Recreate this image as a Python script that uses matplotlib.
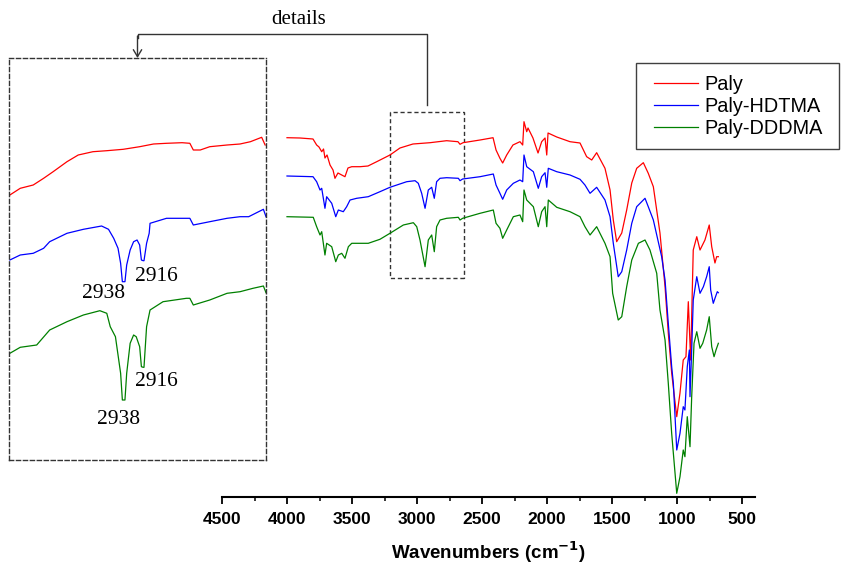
import matplotlib
matplotlib.use("Agg")
import matplotlib.pyplot as plt
from matplotlib.patches import Rectangle, FancyArrowPatch
from matplotlib.lines import Line2D
from matplotlib.ticker import MultipleLocator

# ---- FTIR spectra (wavenumber in cm-1, transmittance in arbitrary units, curves offset) ----
paly_wn = [4000, 3900, 3800, 3772, 3754, 3733, 3719, 3708, 3692, 3669, 3646, 3631, 3608, 3579,
           3554, 3531, 3502, 3438, 3377, 3310, 3208, 3131, 3031, 2900, 2772, 2685, 2669, 2646,
           2515, 2415, 2392, 2362, 2341, 2310, 2262, 2208, 2187, 2177, 2156, 2146, 2108, 2069,
           2041, 2015, 2002, 1992, 1925, 1823, 1746, 1695, 1656, 1618, 1554, 1515, 1490, 1464,
           1425, 1387, 1348, 1310, 1259, 1221, 1182, 1131, 1092, 1067, 1041, 1002, 977, 952,
           931, 913, 895, 875, 848, 823, 785, 752, 733, 708, 695, 682]
paly_t = [362.3, 362, 361, 355, 353, 348.3, 351, 342, 345, 335, 330, 321.7, 327, 325,
          323.3, 332, 333.3, 333.3, 334, 338.3, 345, 352, 356, 357.3, 359.3, 358.3, 355.7, 357.3,
          360, 362.3, 350, 341.7, 337, 345, 355, 358.3, 355, 378.3, 368.3, 372, 362, 347,
          358.3, 362, 345, 367, 363, 358.3, 357, 343.3, 340, 347.3, 331.7, 310, 280, 258.3,
          267, 290, 317, 331.7, 337.3, 326.7, 313.3, 267, 213.3, 167, 127, 83.3, 107, 140,
          143.3, 198.3, 140, 250, 263.3, 250, 260, 275, 253.3, 237, 243.3, 243.3]

hdtma_wn = [4000, 3800, 3772, 3746, 3733, 3708, 3695, 3656, 3625, 3605, 3567, 3541, 3515, 3464,
            3375, 3285, 3208, 3079, 3015, 2990, 2964, 2938, 2913, 2887, 2867, 2849, 2823, 2772,
            2682, 2669, 2649, 2515, 2413, 2392, 2362, 2341, 2310, 2259, 2208, 2187, 2177, 2156,
            2105, 2067, 2041, 2015, 2002, 1990, 1925, 1823, 1746, 1708, 1669, 1618, 1554, 1515,
            1490, 1452, 1425, 1387, 1348, 1310, 1246, 1221, 1182, 1118, 1092, 1067, 1041, 1028,
            1002, 977, 952, 939, 921, 905, 900, 887, 875, 848, 823, 797, 772, 752, 741, 721,
            708, 690, 682]
hdtma_t = [324, 323.3, 318.3, 310, 311.7, 291.7, 303.3, 296.7, 283.3, 290, 288.3, 293.3, 300, 301.7,
           303.3, 308.3, 312.7, 318.3, 319.3, 316.7, 306.7, 291.7, 310, 312.7, 301.7, 318.3, 321.7, 322.3,
           321.7, 319.3, 321, 323.3, 326, 315, 306.7, 300.7, 310, 316.7, 320, 318.3, 345, 333.3,
           328.3, 311.7, 323.3, 327.3, 312.7, 331.7, 328.3, 325, 320.7, 315, 306.7, 312.7, 300, 283.3,
           256.7, 223.3, 228.3, 250, 276.7, 293.3, 301.7, 293.3, 280, 243.3, 220, 176.7, 133.3, 116.7,
           50, 66.7, 93.3, 90, 133.3, 150, 103.3, 150, 200, 223.3, 206.7, 213.3, 223.3, 233.3, 210, 196.7,
           201.7, 208.3, 207.3]

dddma_wn = [4000, 3798, 3772, 3746, 3733, 3708, 3695, 3656, 3625, 3605, 3579, 3554, 3528, 3502,
            3375, 3285, 3208, 3105, 3028, 3002, 2977, 2938, 2913, 2887, 2867, 2849, 2823, 2772,
            2682, 2669, 2649, 2515, 2413, 2392, 2362, 2341, 2310, 2259, 2208, 2187, 2177, 2156,
            2105, 2067, 2041, 2015, 2002, 1990, 1925, 1823, 1746, 1708, 1669, 1618, 1554, 1515,
            1495, 1452, 1425, 1387, 1348, 1297, 1246, 1208, 1156, 1131, 1092, 1067, 1041, 1002,
            977, 952, 939, 921, 900, 887, 869, 848, 823, 802, 772, 752, 733, 715, 700, 682]
dddma_t = [283.3, 282.7, 273.3, 265, 268.3, 245, 256.7, 253.3, 238.3, 245, 246.7, 241.7, 253.3, 256.7,
           256.7, 260.7, 266.7, 275, 277.3, 273.3, 260, 233.3, 260, 265, 248.3, 273.3, 280, 281.7,
           282.7, 280, 281.7, 286.7, 290, 276.7, 271.7, 261.7, 270, 283.3, 285, 278.3, 310, 300,
           293.3, 273.3, 288.3, 293.3, 273.3, 300, 292.7, 288.3, 283.3, 273.3, 265, 273.3, 256.7, 243.3,
           206.7, 180, 183.3, 213.3, 240, 256.7, 260, 250, 226.7, 190, 160, 116.7, 66.7, 6.7,
           23.3, 50, 43.3, 83.3, 53.3, 103.3, 156.7, 168.3, 151.7, 156.7, 170, 183.3, 153.3, 143.3, 150, 156.7]

# ---- expanded C-H stretching region ----
det_paly_wn = [3070, 3058, 3043, 3031, 3020, 3004, 2991, 2974, 2958, 2939, 2920, 2904, 2889, 2871,
               2862, 2858, 2850, 2839, 2819, 2804, 2792, 2779, 2775]
det_paly_t = [305, 311.7, 315, 321.7, 328.3, 338.3, 345, 348.3, 349.3, 350.7, 353.3, 356, 356.7, 357.3,
              356.7, 350, 350, 353.3, 355, 356, 358.3, 362.7, 355]

det_hdtma_wn = [3070, 3058, 3043, 3031, 3024, 3004, 2985, 2964, 2956, 2950, 2945, 2942, 2940, 2938,
                2937, 2935, 2931, 2927, 2923, 2920, 2918, 2916, 2915, 2912, 2909, 2908, 2889, 2862,
                2858, 2839, 2819, 2804, 2794, 2777, 2774]
det_hdtma_t = [240, 245, 246.7, 251.7, 258.3, 266.7, 270.7, 274, 270.7, 261.7, 251.7, 236.7, 218.3, 218.3,
               218.3, 235, 250, 258.3, 260, 255, 240, 239.3, 239.3, 256.7, 266.7, 276.7, 281.7, 281.7,
               275, 278.3, 281.7, 283.3, 283.3, 290.7, 283.3]

det_dddma_wn = [3070, 3058, 3039, 3024, 3004, 2985, 2966, 2958, 2954, 2948, 2945, 2942, 2940, 2938,
                2937, 2935, 2931, 2927, 2924, 2920, 2918, 2916, 2915, 2912, 2908, 2893, 2866, 2862,
                2858, 2839, 2819, 2804, 2789, 2777, 2774]
det_dddma_t = [146.7, 152.7, 155, 170, 178.3, 185, 189.3, 186.7, 173.3, 163.3, 145, 126.7, 100, 100,
               100, 126.7, 156.7, 165, 163.3, 153.3, 133.3, 132.7, 132.7, 173.3, 190, 198.3, 201.7, 201.7,
               195, 200, 206.7, 208.3, 211.7, 214, 207.3]

# peak labels in the expanded view: (text, wavenumber, y)
peak_labels = [("2938", 2962, 206.7), ("2916", 2901, 223.3),
               ("2916", 2901, 118.3), ("2938", 2944, 80)]

series_names = ["Paly", "Paly-HDTMA", "Paly-DDDMA"]
colors = ["#ff0000", "#0000ff", "#008000"]
x_ticks = [4500, 4000, 3500, 3000, 2500, 2000, 1500, 1000, 500]

W, H = 841, 564
fig = plt.figure(figsize=(W / 100, H / 100), dpi=100)

# ---- main spectrum axes ----
ax = fig.add_axes([222 / W, 67 / H, 533 / W, 497 / H])
ax.set_xlim(4500, 400)
ax.set_ylim(3, 500)
lines = []
for wn, t, c, n in zip([paly_wn, hdtma_wn, dddma_wn], [paly_t, hdtma_t, dddma_t], colors, series_names):
    ln, = ax.plot(wn, t, color=c, lw=0.9, label=n)
    lines.append(ln)

for s in ("left", "right", "top"):
    ax.spines[s].set_visible(False)
ax.spines["bottom"].set_linewidth(1.5)
ax.set_yticks([])
ax.set_xticks(x_ticks)
ax.xaxis.set_minor_locator(MultipleLocator(250))
ax.tick_params(axis="x", which="major", direction="out", length=5, width=1.3, pad=6)
ax.tick_params(axis="x", which="minor", direction="out", length=3, width=1.1)
for lab in ax.get_xticklabels():
    lab.set_fontfamily("Liberation Sans")
    lab.set_fontweight("bold")
    lab.set_fontsize(12.5)
ax.set_xlabel("Wavenumbers (cm$^{\\mathbf{-1}}$)", fontfamily="Liberation Sans",
              fontweight="bold", fontsize=13.5, labelpad=9)

# dashed box marking the expanded region
box_lo, box_hi = 2636, 3208
box_bot, box_top = 222.3, 387.7
ax.add_patch(Rectangle((box_lo, box_bot), box_hi - box_lo, box_top - box_bot,
                       fill=False, ls=(0, (3, 2)), lw=1.0, ec="#333333"))

# ---- expanded view axes ----
ins = fig.add_axes([9 / W, 104 / H, 257 / W, 402 / H])
ins.set_xlim(3071, 2774)
ins.set_ylim(40, 442)
for wn, t, c in zip([det_paly_wn, det_hdtma_wn, det_dddma_wn],
                    [det_paly_t, det_hdtma_t, det_dddma_t], colors):
    ins.plot(wn, t, color=c, lw=0.9)
ins.set_xticks([])
ins.set_yticks([])
for s in ins.spines.values():
    s.set_linestyle((0, (3, 2)))
    s.set_linewidth(1.0)
    s.set_edgecolor("#333333")
for txt, x, y in peak_labels:
    ins.text(x, y, txt, ha="center", va="center", fontfamily="Liberation Serif", fontsize=15.5)

# ---- connector from the box to the expanded view ----
fig.canvas.draw()
bx, by = ax.transData.transform(((box_lo + box_hi) / 2, box_top))
ix, iy = ins.transAxes.transform((0.5, 1.0))
y_route = H - 34
fig.add_artist(Line2D([bx / W, bx / W, ix / W, ix / W],
                      [(by + 7) / H, y_route / H, y_route / H, (y_route - 4) / H],
                      transform=fig.transFigure, color="#333333", lw=1.0))
fig.add_artist(FancyArrowPatch(
    (ix / W, (y_route - 2) / H), (ix / W, iy / H), transform=fig.transFigure,
    arrowstyle="->,head_length=5,head_width=3", color="#333333", lw=1.0,
    shrinkA=0, shrinkB=0))
fig.text(299 / W, (H - 19) / H, "details", ha="center", va="center",
         fontfamily="Liberation Serif", fontsize=15)

# ---- legend ----
fig.add_artist(Rectangle((636 / W, (H - 149) / H), 203 / W, 86 / H, transform=fig.transFigure,
                         fill=False, ec="#404040", lw=1.0))
leg = fig.legend(handles=lines, labels=series_names, loc="upper left",
                 bbox_to_anchor=(654 / W, (H - 75) / H), bbox_transform=fig.transFigure,
                 frameon=False, borderpad=0, borderaxespad=0, handlelength=2.2,
                 handletextpad=0.35, labelspacing=0.15,
                 prop={"family": "Liberation Sans", "size": 14.3})

fig.savefig("out.png", dpi=100)
